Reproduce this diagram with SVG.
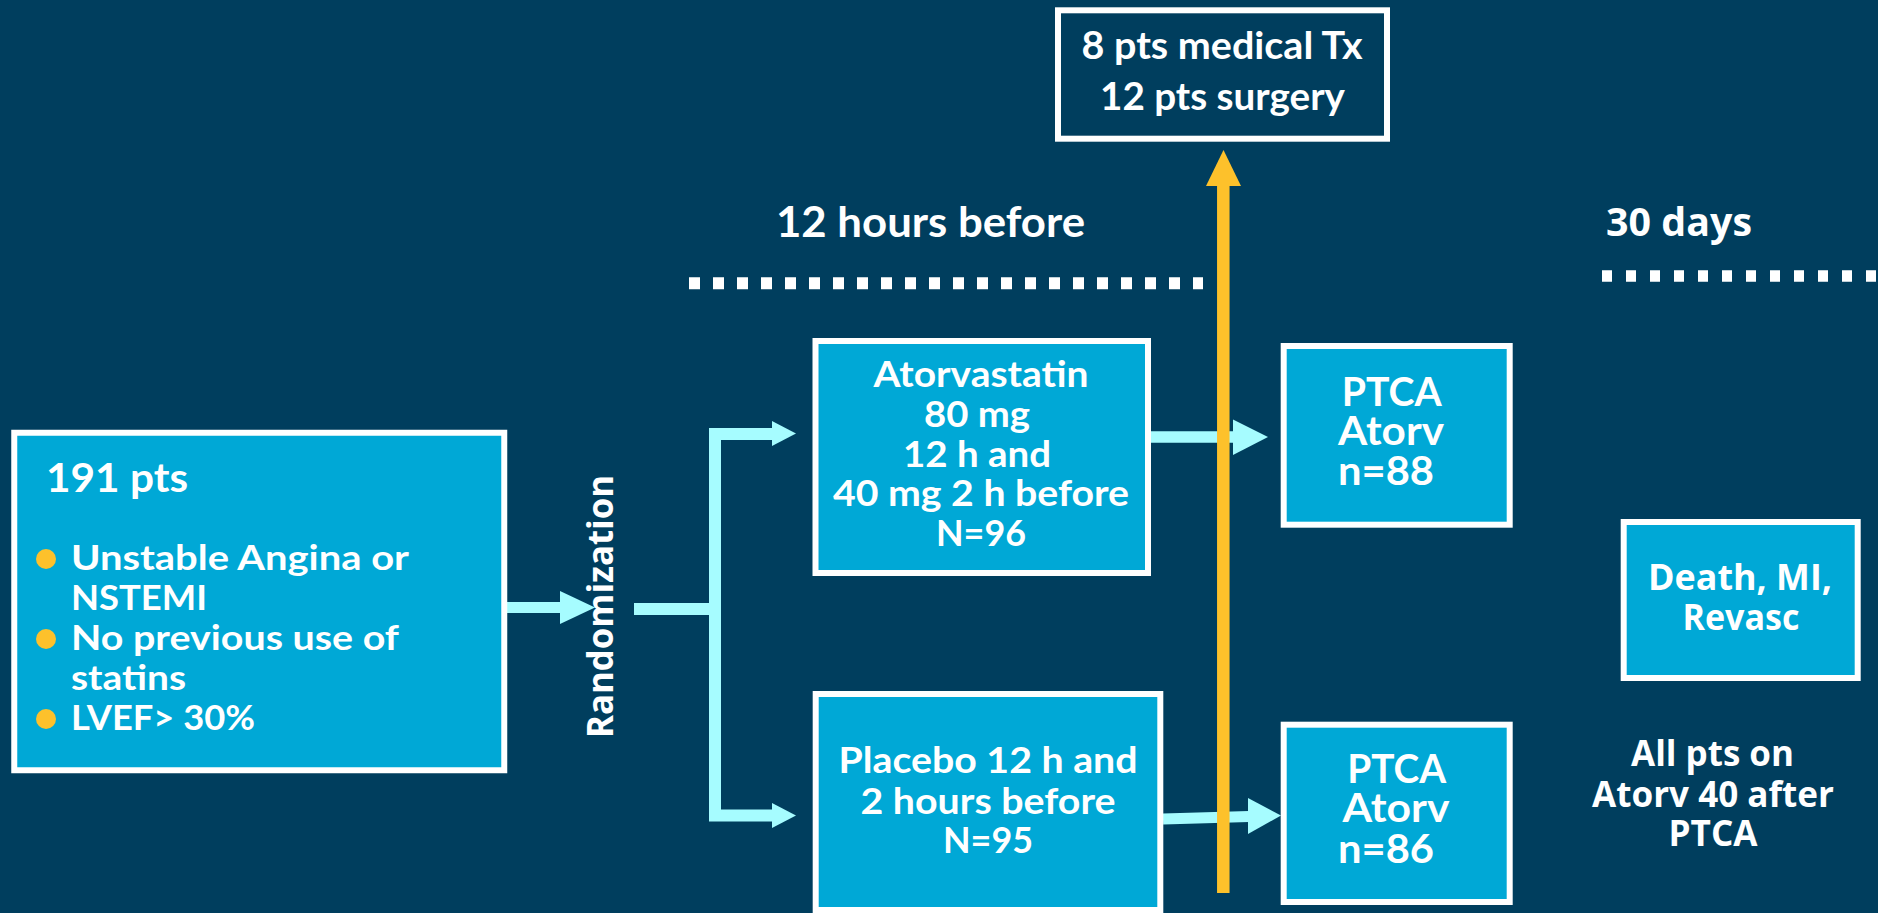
<svg xmlns="http://www.w3.org/2000/svg" width="1878" height="913" viewBox="0 0 1878 913">
<style>
.bg{fill:#003E5E}
.box{fill:#00A8D6;stroke:#FFFFFF;stroke-width:6}
.dbox{fill:#003E5E;stroke:#FFFFFF;stroke-width:6}
.c{font-family:Lato,"Liberation Sans",sans-serif;font-weight:700;fill:#FFFFFF}
.s{font-family:"Open Sans","DejaVu Sans",sans-serif;font-weight:700;fill:#FFFFFF}
.m{text-anchor:middle}
.cy{stroke:#A6FCFF;fill:none;stroke-linejoin:miter}
.cyh{fill:#A6FCFF}
.dot{stroke:#FFFFFF;fill:none;stroke-dasharray:11 13}
.bul{fill:#FDC12B}
</style>
<rect class="bg" x="0" y="0" width="1878" height="913"/>

<g id="timeline">
  <line class="dot" x1="689" y1="283.3" x2="1203" y2="283.3" stroke-width="12"/>
  <line class="dot" x1="1602" y1="276" x2="1878" y2="276" stroke-width="11.5" style="stroke-dasharray:10 14"/>
  <text class="c" x="776" y="237" font-size="42" textLength="309" lengthAdjust="spacingAndGlyphs">12 hours before</text>
  <text class="s" x="1606" y="235.5" font-size="40" textLength="146" lengthAdjust="spacingAndGlyphs">30 days</text>
</g>

<g id="connectors">
  <line class="cy" x1="507" y1="607.5" x2="561" y2="607.5" stroke-width="11"/>
  <polygon class="cyh" points="560,591 595,607.5 560,624"/>
  <line class="cy" x1="634" y1="609" x2="716" y2="609" stroke-width="12"/>
  <path class="cy" d="M773,434 H715 V815.5 H773" stroke-width="12"/>
  <polygon class="cyh" points="772,421 796,433.5 772,446"/>
  <polygon class="cyh" points="772,803 796,815.5 772,828"/>
  <line class="cy" x1="1151" y1="437" x2="1234" y2="437" stroke-width="11.5"/>
  <polygon class="cyh" points="1233,419.5 1268,437 1233,455"/>
  <line class="cy" x1="1163" y1="819" x2="1249" y2="816.5" stroke-width="11"/>
  <polygon class="cyh" points="1248,798 1281,815.5 1248,834"/>
  <line x1="1223.3" y1="185" x2="1223.3" y2="893" stroke="#FDC12B" stroke-width="12.5"/>
  <polygon fill="#FDC12B" points="1206,186 1223.5,150 1241,186"/>
</g>

<g id="n-randomization">
  <text class="s m" transform="translate(613,606.5) rotate(-90)" x="0" y="0" font-size="35" textLength="263" lengthAdjust="spacingAndGlyphs">Randomization</text>
</g>

<g id="n-191pts">
  <rect class="box" x="14.25" y="432.75" width="490" height="337.5" stroke-width="5.5"/>
  <text class="c" x="46" y="492" font-size="40.5" textLength="142" lengthAdjust="spacingAndGlyphs">191 pts</text>
  <circle class="bul" cx="46" cy="559" r="10"/>
  <circle class="bul" cx="46" cy="639" r="10"/>
  <circle class="bul" cx="46" cy="719" r="10"/>
  <text class="c" x="71" y="570" font-size="33.5" textLength="338" lengthAdjust="spacingAndGlyphs">Unstable Angina or</text>
  <text class="c" x="71" y="610" font-size="33.5" textLength="136" lengthAdjust="spacingAndGlyphs">NSTEMI</text>
  <text class="c" x="71" y="650" font-size="33.5" textLength="328" lengthAdjust="spacingAndGlyphs">No previous use of</text>
  <text class="c" x="71" y="690" font-size="33.5" textLength="115" lengthAdjust="spacingAndGlyphs">statins</text>
  <text class="c" x="71" y="730" font-size="33.5" textLength="184" lengthAdjust="spacingAndGlyphs">LVEF&gt; 30%</text>
</g>

<g id="n-atorvastatin">
  <rect class="box" x="815.5" y="341" width="332.5" height="232"/>
  <text class="c m" x="981" y="387" font-size="36" textLength="215" lengthAdjust="spacingAndGlyphs">Atorvastatin</text>
  <text class="c m" x="977" y="427" font-size="36" textLength="106" lengthAdjust="spacingAndGlyphs">80 mg</text>
  <text class="c m" x="977" y="466.5" font-size="36" textLength="148" lengthAdjust="spacingAndGlyphs">12 h and</text>
  <text class="c m" x="981" y="506" font-size="36" textLength="296" lengthAdjust="spacingAndGlyphs">40 mg 2 h before</text>
  <text class="c m" x="981" y="546" font-size="36" textLength="90" lengthAdjust="spacingAndGlyphs">N=96</text>
</g>

<g id="n-placebo">
  <rect class="box" x="815.7" y="694" width="344.6" height="216"/>
  <text class="c m" x="988" y="773" font-size="36" textLength="299" lengthAdjust="spacingAndGlyphs">Placebo 12 h and</text>
  <text class="c m" x="988" y="813.5" font-size="36" textLength="255" lengthAdjust="spacingAndGlyphs">2 hours before</text>
  <text class="c m" x="988" y="853" font-size="36" textLength="90" lengthAdjust="spacingAndGlyphs">N=95</text>
</g>

<g id="n-excluded">
  <rect class="dbox" x="1058" y="10.3" width="329" height="128.4"/>
  <text class="c m" x="1222" y="59" font-size="37.7" textLength="281" lengthAdjust="spacingAndGlyphs">8 pts medical Tx</text>
  <text class="c m" x="1222.5" y="110" font-size="37.7" textLength="245" lengthAdjust="spacingAndGlyphs">12 pts surgery</text>
</g>

<g id="n-ptca-atorv">
  <rect class="box" x="1283.7" y="346" width="226" height="178.7"/>
  <text class="c m" x="1391.7" y="406" font-size="40.5" textLength="100" lengthAdjust="spacingAndGlyphs">PTCA</text>
  <text class="c m" x="1391" y="445" font-size="40.5" textLength="106" lengthAdjust="spacingAndGlyphs">Atorv</text>
  <text class="c m" x="1386" y="485" font-size="40.5" textLength="96" lengthAdjust="spacingAndGlyphs">n=88</text>
</g>

<g id="n-ptca-placebo">
  <rect class="box" x="1283.7" y="724.7" width="226" height="177.3"/>
  <text class="c m" x="1396.7" y="782.7" font-size="40.5" textLength="99" lengthAdjust="spacingAndGlyphs">PTCA</text>
  <text class="c m" x="1396" y="821.7" font-size="40.5" textLength="107" lengthAdjust="spacingAndGlyphs">Atorv</text>
  <text class="c m" x="1386" y="863" font-size="40.5" textLength="96" lengthAdjust="spacingAndGlyphs">n=86</text>
</g>

<g id="n-outcome">
  <rect class="box" x="1623.7" y="522" width="234" height="156"/>
  <text class="s m" x="1740" y="590" font-size="36.4" textLength="184" lengthAdjust="spacingAndGlyphs">Death, MI,</text>
  <text class="s m" x="1741" y="629.5" font-size="36.4" textLength="117" lengthAdjust="spacingAndGlyphs">Revasc</text>
</g>

<g id="n-note">
  <text class="s m" x="1712.5" y="766" font-size="35" textLength="163" lengthAdjust="spacingAndGlyphs">All pts on</text>
  <text class="s m" x="1713" y="807" font-size="35" textLength="242" lengthAdjust="spacingAndGlyphs">Atorv 40 after</text>
  <text class="s m" x="1713" y="846" font-size="35" textLength="89" lengthAdjust="spacingAndGlyphs">PTCA</text>
</g>
</svg>
